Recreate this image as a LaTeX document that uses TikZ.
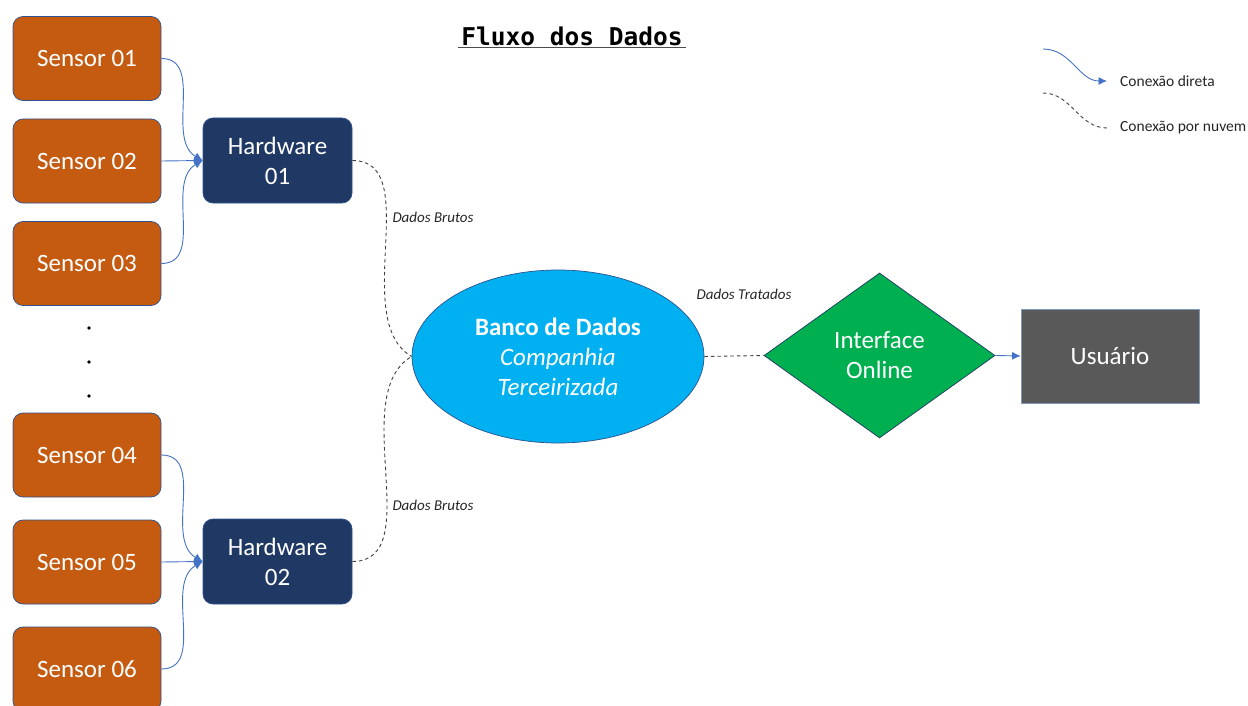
\documentclass[tikz,border=0pt]{standalone}
\usepackage{fontspec}
\setmainfont{Carlito}
\newfontfamily\titlefont{DejaVu Sans Mono}
\usetikzlibrary{shapes.geometric,arrows.meta}
\definecolor{sensororange}{HTML}{C55A11}
\definecolor{hwnavy}{HTML}{1F3864}
\definecolor{dbblue}{HTML}{00B0F0}
\definecolor{uigreen}{HTML}{00B050}
\definecolor{usergrey}{HTML}{595959}
\definecolor{edgeblue}{HTML}{2F528F}
\definecolor{linkblue}{HTML}{4472C4}
\definecolor{cloudgrey}{HTML}{404040}
\begin{document}
\begin{tikzpicture}[x=1pt,y=-1pt,
  bigtext/.style={text=white, font=\fontsize{25}{30}\selectfont, align=center},
  sensorbox/.style={bigtext, draw=edgeblue, line width=0.7pt, fill=sensororange,
    rounded corners=10pt, minimum width=148pt, minimum height=84pt, inner sep=0pt},
  hwbox/.style={bigtext, draw=edgeblue, line width=0.7pt, fill=hwnavy,
    rounded corners=10pt, minimum width=149pt, minimum height=85pt, inner sep=0pt},
  dbshape/.style={bigtext, ellipse, draw=edgeblue, line width=0.7pt, fill=dbblue,
    minimum width=292pt, minimum height=173pt, inner sep=0pt},
  uishape/.style={bigtext, diamond, draw=hwnavy, line width=0.7pt, fill=uigreen,
    minimum width=231pt, minimum height=165pt, inner sep=0pt},
  userbox/.style={bigtext, draw=edgeblue!60, line width=0.7pt, fill=usergrey,
    minimum width=178pt, minimum height=94pt, inner sep=0pt},
  direct/.style={draw=linkblue, line width=0.9pt, -{Latex[length=8.5pt,width=8pt]}},
  cloud/.style={draw=cloudgrey, line width=0.9pt, dash pattern=on 3.5pt off 3pt},
  smalllabel/.style={font=\fontsize{15}{18}\selectfont\itshape, text=black!85, inner sep=0pt},
  legendlabel/.style={font=\fontsize{15.5}{18}\selectfont, text=black!85, inner sep=0pt, anchor=west}
]
\useasboundingbox (0,0) rectangle (1248,706);
\fill[white] (0,0) rectangle (1248,706);

% title
\node (title) at (572,36) {\titlefont\bfseries\fontsize{24.5}{28}\selectfont Fluxo dos Dados};
\draw[line width=1.8pt, black!70] (title.south west |- 0,47.5) coordinate (ulA) -- (title.south east |- 0,47.5) coordinate (ulB);

% sensors
\node[sensorbox] (s1) at (87,58.5) {Sensor 01};
\node[sensorbox] (s2) at (87,161) {Sensor 02};
\node[sensorbox] (s3) at (87,263.5) {Sensor 03};
\node[sensorbox] (s4) at (87,455) {Sensor 04};
\node[sensorbox] (s5) at (87,562) {Sensor 05};
\node[sensorbox] (s6) at (87,669) {Sensor 06};

% ellipsis between the sensor groups
\fill (89,328) circle (1.8pt);
\fill (89,362) circle (1.8pt);
\fill (89,396) circle (1.8pt);

% hardware units
\node[hwbox] (h1) at (277.5,160.5) {Hardware\\01};
\node[hwbox] (h2) at (277.5,561.5) {Hardware\\02};

% database, interface, user
\node[dbshape] (db) at (558,356.5) {\textbf{Banco de Dados}\\\textit{Companhia}\\\textit{Terceirizada}};
\node[uishape] (ui) at (879.5,355.5) {Interface\\Online};
\node[userbox] (user) at (1110,356) {Usuário};

% direct links sensors -> hardware
\draw[direct] (s1.east) to[out=0,in=150] (h1.west);
\draw[direct] (s2.east) -- (h1.west);
\draw[direct] (s3.east) to[out=0,in=210] (h1.west);
\draw[direct] (s4.east) to[out=0,in=150] (h2.west);
\draw[direct] (s5.east) -- (h2.west);
\draw[direct] (s6.east) to[out=0,in=210] (h2.west);

% cloud links
\draw[cloud] (h1.east) to[out=0,in=150,looseness=0.9] (db.west);
\draw[cloud] (h2.east) to[out=0,in=210,looseness=0.9] (db.west);
\draw[cloud] (db.east) -- (ui.west);
\draw[direct] (ui.east) -- (user.west);

% link labels
\node[smalllabel] (lb1) at (433,217) {Dados Brutos};
\node[smalllabel] (lb2) at (433,505) {Dados Brutos};
\node[smalllabel] (lb3) at (744,294) {Dados Tratados};

% legend
\coordinate (la1) at (1043,49);
\coordinate (la2) at (1107,81);
\coordinate (lb1a) at (1043,93);
\coordinate (lb2a) at (1107,128);
\draw[direct] (la1) to[out=0,in=180] (la2);
\draw[cloud] (lb1a) to[out=0,in=180] (lb2a);
\node[legendlabel] (lg1) at (1120,81) {Conexão direta};
\node[legendlabel] (lg2) at (1120,128) {Conexão por nuvem};
\end{tikzpicture}
\end{document}
